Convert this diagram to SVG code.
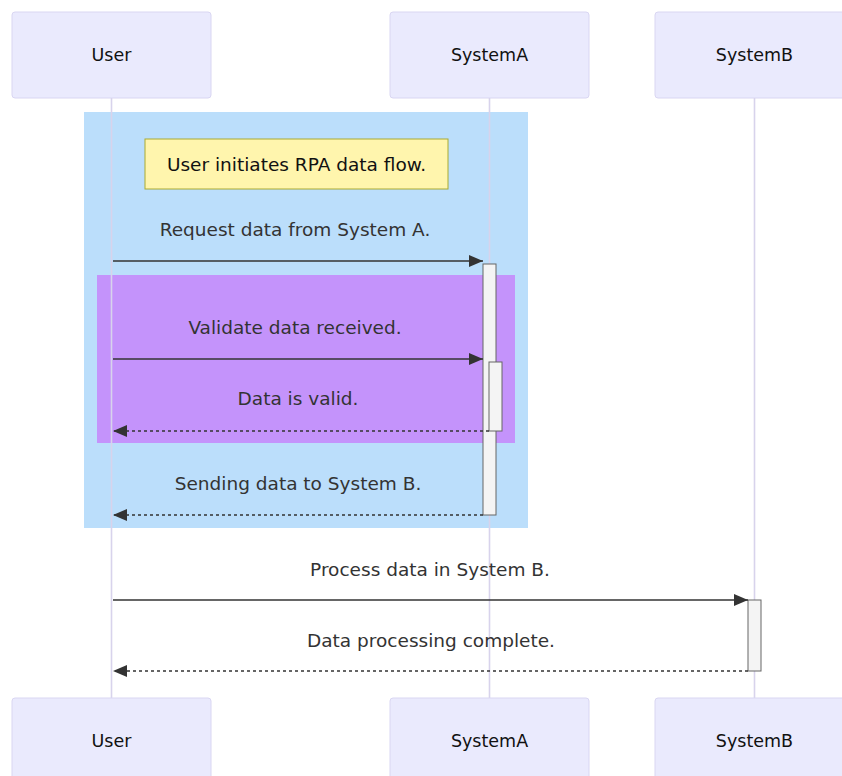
<svg xmlns="http://www.w3.org/2000/svg" width="842" height="776" viewBox="0 0 842 776">
<style>
.actor rect{fill:#eaeafd;stroke:#d9d6f2;stroke-width:1}
.actor text{font-family:"DejaVu Sans",sans-serif;font-size:17.5px;fill:#111;text-anchor:middle;dominant-baseline:central}
.life{stroke:#d8d3ec;stroke-width:1.6}
.msg{font-family:"DejaVu Sans",sans-serif;font-size:18.5px;fill:#333;text-anchor:middle;dominant-baseline:central}
.line{stroke:#333;stroke-width:1.6;fill:none}
.dash{stroke:#333;stroke-width:1.6;fill:none;stroke-dasharray:3,3}
.act{fill:#f4f4f4;stroke:#666;stroke-width:1}
</style>
<defs>
<marker id="ah" markerWidth="14" markerHeight="12" refX="14" refY="6" orient="auto" markerUnits="userSpaceOnUse">
<path d="M0,0 L14,6 L0,12 z" fill="#333"/>
</marker>
</defs>
<rect x="0" y="0" width="842" height="776" fill="#fff"/>
<g id="actors-top">
<g id="user-top" class="actor"><rect x="12" y="12" width="199" height="86" rx="3"/><text x="111.5" y="55">User</text></g>
<g id="systemA-top" class="actor"><rect x="390" y="12" width="199" height="86" rx="3"/><text x="489.5" y="55">SystemA</text></g>
<g id="systemB-top" class="actor"><rect x="655" y="12" width="199" height="86" rx="3"/><text x="754.5" y="55">SystemB</text></g>
</g>
<g id="regions">
<rect id="rect-outer" x="84" y="112" width="444" height="416" fill="#bbdefb"/>
<rect id="rect-inner" x="97" y="275" width="418" height="168" fill="#c493fb"/>
</g>
<g id="lifelines">
<line class="life" x1="111.5" y1="98" x2="111.5" y2="698"/>
<line class="life" x1="489.5" y1="98" x2="489.5" y2="698"/>
<line class="life" x1="754.5" y1="98" x2="754.5" y2="698"/>
</g>
<g id="note">
<rect x="145" y="139" width="303" height="50" fill="#fff5ad" stroke="#aaaa33" stroke-width="1"/>
<text x="296.5" y="164" font-family="DejaVu Sans, sans-serif" font-size="18.5" fill="#111" text-anchor="middle" dominant-baseline="central">User initiates RPA data flow.</text>
</g>
<g id="activations">
<rect class="act" x="483" y="264" width="13" height="251"/>
<rect class="act" x="489" y="362" width="13" height="69"/>
<rect class="act" x="748" y="600" width="13" height="71"/>
</g>
<g id="connectors">
<line class="line" x1="113" y1="261" x2="483" y2="261" marker-end="url(#ah)"/>
<line class="line" x1="113" y1="359" x2="483" y2="359" marker-end="url(#ah)"/>
<line class="dash" x1="489" y1="431" x2="113" y2="431" marker-end="url(#ah)"/>
<line class="dash" x1="483" y1="515" x2="113" y2="515" marker-end="url(#ah)"/>
<line class="line" x1="113" y1="600" x2="748" y2="600" marker-end="url(#ah)"/>
<line class="dash" x1="748" y1="671" x2="113" y2="671" marker-end="url(#ah)"/>
</g>
<g id="labels">
<text class="msg" x="295" y="229">Request data from System A.</text>
<text class="msg" x="295" y="327">Validate data received.</text>
<text class="msg" x="298" y="398">Data is valid.</text>
<text class="msg" x="298" y="483">Sending data to System B.</text>
<text class="msg" x="430" y="569">Process data in System B.</text>
<text class="msg" x="431" y="640">Data processing complete.</text>
</g>
<g id="actors-bottom">
<g id="user-bottom" class="actor"><rect x="12" y="698" width="199" height="86" rx="3"/><text x="111.5" y="741">User</text></g>
<g id="systemA-bottom" class="actor"><rect x="390" y="698" width="199" height="86" rx="3"/><text x="489.5" y="741">SystemA</text></g>
<g id="systemB-bottom" class="actor"><rect x="655" y="698" width="199" height="86" rx="3"/><text x="754.5" y="741">SystemB</text></g>
</g>
</svg>
